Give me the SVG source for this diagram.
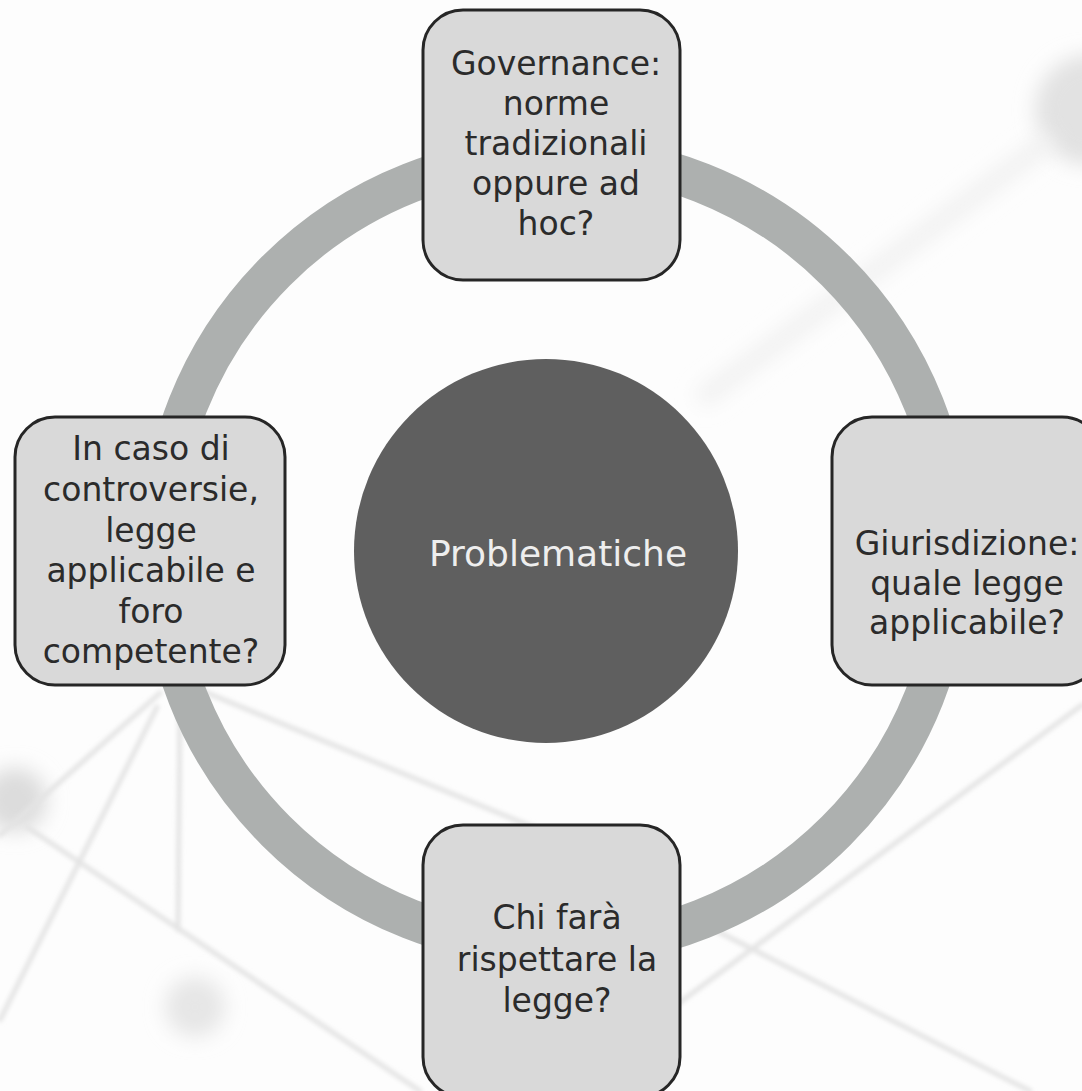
<svg xmlns="http://www.w3.org/2000/svg" width="1082" height="1091" viewBox="0 0 1082 1091">
<defs>
<style>
.box{fill:#d9d9d9;stroke:#262626;stroke-width:3}
.t{font-family:"DejaVu Sans",sans-serif;font-size:33px;fill:#2b2b2b;text-anchor:middle}
.bg{stroke:#e4e4e4;stroke-width:5;fill:none;stroke-linecap:round}
</style>
<filter id="blur" x="-50%" y="-50%" width="200%" height="200%"><feGaussianBlur stdDeviation="10"/></filter>
<filter id="blur2" x="-50%" y="-50%" width="200%" height="200%"><feGaussianBlur stdDeviation="2"/></filter>
</defs>
<rect width="1082" height="1091" fill="#fdfdfd"/>
<g id="background">
<circle cx="1090" cy="110" r="55" fill="#e2e2e2" filter="url(#blur)"/>
<line x1="1050" y1="140" x2="700" y2="400" stroke="#f0f0f0" stroke-width="18" filter="url(#blur)"/>
<circle cx="15" cy="800" r="32" fill="#dcdcdc" filter="url(#blur)"/>
<circle cx="195" cy="1007" r="30" fill="#e6e6e6" filter="url(#blur)"/>
<g filter="url(#blur2)">
<line class="bg" x1="160" y1="693" x2="0" y2="835"/>
<line class="bg" x1="157" y1="707" x2="0" y2="1020"/>
<line class="bg" x1="180" y1="700" x2="178" y2="930" stroke="#efefef"/>
<line class="bg" x1="200" y1="690" x2="540" y2="830"/>
<line class="bg" x1="27" y1="827" x2="420" y2="1091"/>
<line class="bg" x1="1082" y1="705" x2="560" y2="1091" stroke="#ececec"/>
<line class="bg" x1="715" y1="930" x2="1030" y2="1091"/>
</g>
</g>
<g id="connectors">
<circle cx="556" cy="551" r="396" fill="none" stroke="#adb0af" stroke-width="40"/>
</g>
<g id="center">
<circle cx="546" cy="551" r="192" fill="#5f5f5f"/>
<text x="558" y="566" font-family="DejaVu Sans, sans-serif" font-size="36" fill="#eeeeee" text-anchor="middle">Problematiche</text>
</g>
<g id="node-top">
<rect class="box" x="423" y="10" width="257" height="270" rx="40"/>
<text class="t" x="556"><tspan x="556" y="75">Governance:</tspan><tspan x="556" y="115">norme</tspan><tspan x="556" y="155">tradizionali</tspan><tspan x="556" y="195">oppure ad</tspan><tspan x="556" y="235">hoc?</tspan></text>
</g>
<g id="node-right">
<rect class="box" x="832" y="417" width="270" height="268" rx="40"/>
<text class="t"><tspan x="967" y="555">Giurisdizione:</tspan><tspan x="967" y="595">quale legge</tspan><tspan x="967" y="634">applicabile?</tspan></text>
</g>
<g id="node-bottom">
<rect class="box" x="423" y="825" width="257" height="272" rx="40"/>
<text class="t"><tspan x="557" y="929">Chi farà</tspan><tspan x="557" y="971">rispettare la</tspan><tspan x="557" y="1012">legge?</tspan></text>
</g>
<g id="node-left">
<rect class="box" x="15" y="417" width="270" height="268" rx="40"/>
<text class="t"><tspan x="151" y="460">In caso di</tspan><tspan x="151" y="501">controversie,</tspan><tspan x="151" y="542">legge</tspan><tspan x="151" y="582">applicabile e</tspan><tspan x="151" y="623">foro</tspan><tspan x="151" y="663">competente?</tspan></text>
</g>
</svg>
